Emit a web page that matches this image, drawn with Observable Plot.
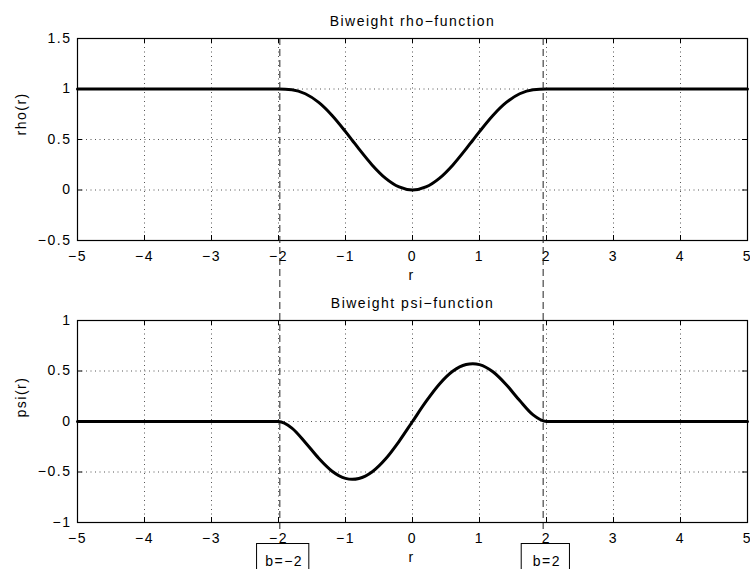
<!DOCTYPE html>
<html><head><meta charset="utf-8">
<script src="https://cdn.jsdelivr.net/npm/d3@7"></script>
<script src="https://cdn.jsdelivr.net/npm/@observablehq/plot@0.6"></script>
<style>
html,body{margin:0;padding:0;background:#fff;}
#wrap{position:relative;width:750px;height:569px;overflow:hidden;background:#fff;}
#wrap svg{position:absolute;left:0;top:0;}
</style></head><body><div id="wrap"></div>
<script>
// values
const r   = [-5, -2, -1.8, -1.6, -1.4, -1.2, -1, -0.9, -0.8, -0.6, -0.4, -0.2, 0, 0.2, 0.4, 0.6, 0.8, 0.9, 1, 1.2, 1.4, 1.6, 1.8, 2, 5];
const rho = [1, 1, 0.993, 0.953, 0.867, 0.738, 0.578, 0.493, 0.407, 0.246, 0.115, 0.030, 0, 0.030, 0.115, 0.246, 0.407, 0.493, 0.578, 0.738, 0.867, 0.953, 0.993, 1, 1];
const psi = [0, 0, -0.065, -0.207, -0.364, -0.492, -0.563, -0.572, -0.564, -0.497, -0.369, -0.196, 0, 0.196, 0.369, 0.497, 0.564, 0.572, 0.563, 0.492, 0.364, 0.207, 0.065, 0, 0];

const xTicks = [-5, -4, -3, -2, -1, 0, 1, 2, 3, 4, 5];
const xTickLabels = ["−5", "−4", "−3", "−2", "−1", "0", "1", "2", "3", "4", "5"];
const rhoTicks = [-0.5, 0, 0.5, 1, 1.5];
const rhoTickLabels = ["−0.5", "0", "0.5", "1", "1.5"];
const psiTicks = [-1, -0.5, 0, 0.5, 1];
const psiTickLabels = ["−1", "−0.5", "0", "0.5", "1"];

const titles = ["Biweight rho−function", "Biweight psi−function"];
const yLabels = ["rho(r)", "psi(r)"];
const xLabel = "r";

// annotation: dashed lines at ±b and the labelled boxes
const bLines = [-1.98, 1.95];
const bLabels = ["b=−2", "b=2"];
const bBoxLeft = [-2.32, 1.63];
const bBoxRight = [-1.54, 2.35];

const rhoData = r.map((x, i) => ({r: x, v: rho[i]}));
const psiData = r.map((x, i) => ({r: x, v: psi[i]}));
const boxes = bLabels.map((t, i) => ({t, x1: bBoxLeft[i], x2: bBoxRight[i]}));

const W = 750, H = 569;
const ML = 77, MR = 3;
const FW = W - ML - MR;
const svgStyle = "background:transparent;font-family:'Liberation Sans',Arial,Helvetica,sans-serif;font-size:14px;letter-spacing:1.5px;color:#000;overflow:visible;";
const gridStyle = {stroke: "#555", strokeWidth: 1, strokeDasharray: "1,3.5"};
const TL = 5;

function panel({data, yDomain, yTicks, yTickLabels, title, yLabel, marginTop, marginBottom, extra}) {
  const FH = H - marginTop - marginBottom;
  return Plot.plot({
    width: W, height: H,
    marginLeft: ML, marginRight: MR, marginTop, marginBottom,
    style: svgStyle,
    x: {domain: [-5, 5], axis: null},
    y: {domain: yDomain, axis: null},
    marks: [
      Plot.ruleX(xTicks, gridStyle),
      Plot.ruleY(yTicks, gridStyle),
      Plot.line(data, {x: "r", y: "v", stroke: "black", strokeWidth: 3, curve: "monotone-x"}),
      Plot.frame({stroke: "black", strokeWidth: 1.2}),
      Plot.tickX(xTicks, {x: d => d, insetTop: FH - TL, stroke: "black"}),
      Plot.tickX(xTicks, {x: d => d, insetBottom: FH - TL, stroke: "black"}),
      Plot.tickY(yTicks, {y: d => d, insetRight: FW - TL, stroke: "black"}),
      Plot.tickY(yTicks, {y: d => d, insetLeft: FW - TL, stroke: "black"}),
      Plot.text(xTicks, {x: d => d, text: (d, i) => xTickLabels[i], frameAnchor: "bottom", lineAnchor: "bottom", dy: 20, fill: "black"}),
      Plot.text(yTicks, {y: d => d, text: (d, i) => yTickLabels[i], frameAnchor: "left", textAnchor: "end", dx: -6, fill: "black"}),
      Plot.text([title], {frameAnchor: "top", lineAnchor: "bottom", dy: -13, fill: "black"}),
      Plot.text([xLabel], {frameAnchor: "bottom", lineAnchor: "bottom", dy: 39, dx: -1, fill: "black"}),
      Plot.text([yLabel], {frameAnchor: "left", rotate: -90, dx: -55.5, dy: -4, fill: "black"}),
      ...extra
    ]
  });
}

const topPanel = panel({
  data: rhoData, yDomain: [-0.5, 1.5], yTicks: rhoTicks, yTickLabels: rhoTickLabels,
  title: titles[0], yLabel: yLabels[0], marginTop: 38, marginBottom: H - 240,
  extra: [
    Plot.ruleX(bLines, {x: d => d, y1: 1.5, y2: -3.39, stroke: "#222", strokeWidth: 1, strokeDasharray: "7,4"})
  ]
});

const bottomPanel = panel({
  data: psiData, yDomain: [-1, 1], yTicks: psiTicks, yTickLabels: psiTickLabels,
  title: titles[1], yLabel: yLabels[1], marginTop: 320, marginBottom: H - 522,
  extra: [
    Plot.rect(boxes, {x1: "x1", x2: "x2", y1: -1.213, y2: -1.7, fill: "white", stroke: "black", strokeWidth: 1}),
    Plot.text(boxes, {x: d => (d.x1 + d.x2) / 2, text: "t", frameAnchor: "bottom", lineAnchor: "bottom", dy: 43, dx: 1, fill: "black"})
  ]
});

const wrap = document.getElementById("wrap");
wrap.appendChild(topPanel);
wrap.appendChild(bottomPanel);
</script></body></html>
